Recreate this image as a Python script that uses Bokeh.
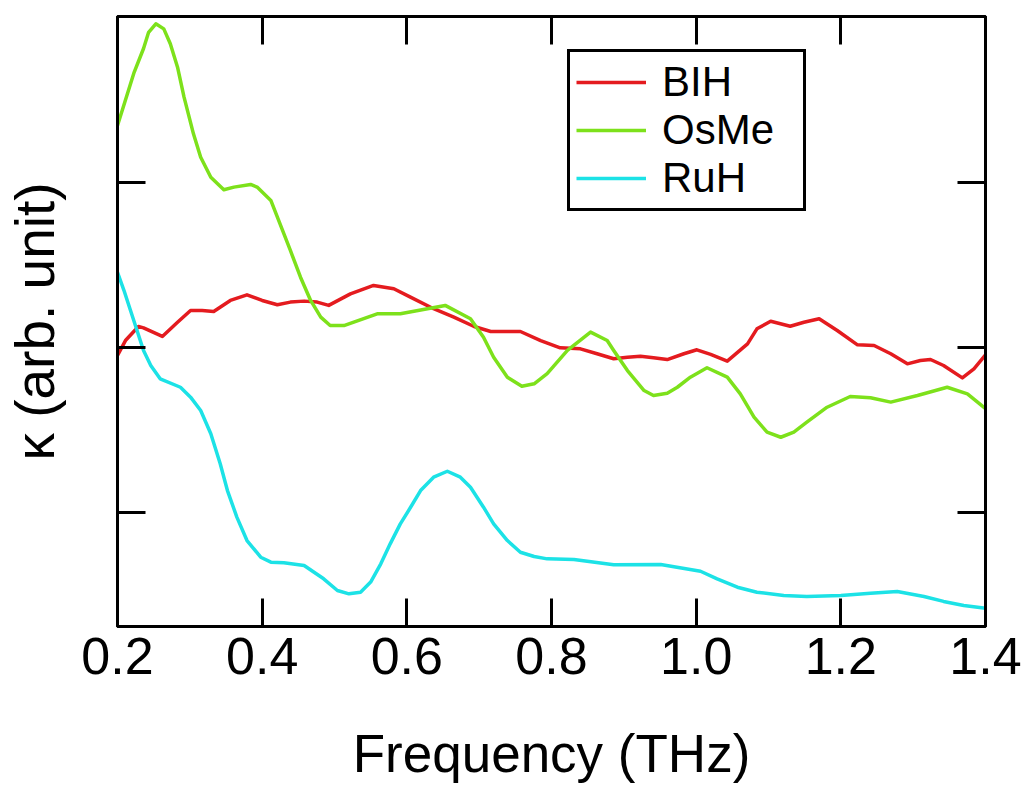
from bokeh.plotting import figure
from bokeh.models import Range1d, FixedTicker, LinearAxis, Legend, LegendItem
from bokeh.embed import file_html
from bokeh.resources import INLINE

# --- data (y in arbitrary units, ticks at 1, 2, 3) ---
bih_x = [0.200, 0.211, 0.229, 0.236, 0.262, 0.283, 0.301, 0.317, 0.333, 0.356,
         0.379, 0.400, 0.421, 0.439, 0.458, 0.476, 0.492, 0.522, 0.554, 0.582,
         0.605, 0.637, 0.665, 0.693, 0.716, 0.757, 0.785, 0.812, 0.840, 0.863,
         0.886, 0.905, 0.923, 0.941, 0.960, 0.983, 1.001, 1.020, 1.043, 1.071,
         1.084, 1.103, 1.130, 1.149, 1.170, 1.195, 1.223, 1.246, 1.269, 1.292,
         1.310, 1.324, 1.342, 1.368, 1.384, 1.400]
bih_y = [1.952, 2.042, 2.127, 2.119, 2.067, 2.153, 2.224, 2.224, 2.218, 2.285,
         2.319, 2.285, 2.259, 2.275, 2.281, 2.275, 2.255, 2.325, 2.376, 2.356,
         2.305, 2.235, 2.184, 2.127, 2.097, 2.097, 2.042, 1.998, 1.992, 1.962,
         1.932, 1.941, 1.947, 1.938, 1.927, 1.962, 1.986, 1.958, 1.917, 2.022,
         2.113, 2.159, 2.129, 2.153, 2.174, 2.103, 2.016, 2.012, 1.962, 1.901,
         1.921, 1.927, 1.891, 1.816, 1.871, 1.955]

osme_x = [0.200, 0.223, 0.236, 0.243, 0.253, 0.264, 0.273, 0.283, 0.292, 0.305,
          0.315, 0.329, 0.347, 0.361, 0.384, 0.393, 0.412, 0.439, 0.453, 0.467,
          0.481, 0.494, 0.513, 0.559, 0.591, 0.653, 0.688, 0.706, 0.720, 0.739,
          0.759, 0.776, 0.794, 0.822, 0.854, 0.877, 0.886, 0.905, 0.928, 0.941,
          0.960, 0.974, 0.992, 1.015, 1.043, 1.061, 1.080, 1.098, 1.117, 1.135,
          1.153, 1.181, 1.213, 1.241, 1.269, 1.306, 1.347, 1.375, 1.400]
osme_y = [3.345, 3.668, 3.812, 3.910, 3.962, 3.931, 3.841, 3.699, 3.517, 3.295,
          3.153, 3.032, 2.956, 2.972, 2.988, 2.972, 2.891, 2.588, 2.426, 2.285,
          2.184, 2.133, 2.133, 2.204, 2.204, 2.255, 2.174, 2.062, 1.941, 1.820,
          1.765, 1.780, 1.841, 1.982, 2.093, 2.042, 1.982, 1.860, 1.739, 1.709,
          1.723, 1.759, 1.820, 1.877, 1.820, 1.719, 1.578, 1.487, 1.456, 1.487,
          1.547, 1.638, 1.703, 1.695, 1.669, 1.709, 1.759, 1.719, 1.630]

ruh_x = [0.200, 0.209, 0.218, 0.227, 0.236, 0.246, 0.259, 0.287, 0.301, 0.315,
         0.329, 0.342, 0.352, 0.365, 0.379, 0.398, 0.412, 0.430, 0.458, 0.485,
         0.504, 0.520, 0.536, 0.550, 0.564, 0.577, 0.591, 0.605, 0.619, 0.637,
         0.656, 0.674, 0.688, 0.706, 0.720, 0.739, 0.757, 0.776, 0.794, 0.831,
         0.886, 0.951, 1.006, 1.029, 1.057, 1.084, 1.121, 1.153, 1.200, 1.241,
         1.278, 1.315, 1.342, 1.370, 1.400]
ruh_y = [2.456, 2.345, 2.224, 2.103, 1.982, 1.891, 1.810, 1.759, 1.699, 1.618,
         1.477, 1.295, 1.133, 0.972, 0.830, 0.729, 0.699, 0.695, 0.679, 0.598,
         0.527, 0.507, 0.517, 0.578, 0.689, 0.810, 0.931, 1.030, 1.133, 1.214,
         1.250, 1.214, 1.153, 1.032, 0.931, 0.830, 0.759, 0.733, 0.719, 0.715,
         0.683, 0.685, 0.644, 0.598, 0.547, 0.517, 0.497, 0.491, 0.497, 0.511,
         0.521, 0.491, 0.461, 0.436, 0.420]

x_ticks = [0.2, 0.4, 0.6, 0.8, 1.0, 1.2, 1.4]
x_tick_labels = ["0.2", "0.4", "0.6", "0.8", "1.0", "1.2", "1.4"]
y_ticks = [1, 2, 3]

series_names = ["BIH", "OsMe", "RuH"]
series_colors = ["#E41B1F", "#7DE11B", "#1CE2E6"]

FONT = "Liberation Sans"

p = figure(width=1022, height=787, output_backend="svg", toolbar_location=None,
           x_range=Range1d(0.2, 1.4), y_range=Range1d(0.309, 4.006),
           min_border_left=117, min_border_right=37, min_border_top=16,
           min_border_bottom=161, x_axis_location=None, y_axis_location=None)
p.grid.visible = False
p.outline_line_color = "black"
p.outline_line_width = 3
p.background_fill_color = "white"
p.border_fill_color = "white"


def style_axis(ax, ticks, labels=None, show_labels=True):
    ax.ticker = FixedTicker(ticks=ticks)
    ax.major_tick_in = 28
    ax.major_tick_out = 0
    ax.minor_tick_in = 0
    ax.minor_tick_out = 0
    ax.major_tick_line_width = 3
    ax.major_tick_line_color = "black"
    ax.axis_line_width = 3
    ax.axis_line_color = "black"
    if show_labels:
        ax.major_label_overrides = {t: l for t, l in zip(ticks, labels)}
        ax.major_label_text_font = FONT
        ax.major_label_text_font_size = "52px"
        ax.major_label_text_color = "black"
    else:
        ax.major_label_overrides = {t: "" for t in ticks}
        ax.major_label_text_font_size = "0px"
        ax.major_label_standoff = 0


xb = LinearAxis(axis_label="Frequency (THz)")
style_axis(xb, x_ticks, x_tick_labels, True)
xb.major_label_standoff = 11
xb.axis_label_text_font = FONT
xb.axis_label_text_font_size = "53px"
xb.axis_label_text_font_style = "normal"
xb.axis_label_text_color = "black"
xb.axis_label_standoff = 47
p.add_layout(xb, "below")

xt = LinearAxis()
style_axis(xt, x_ticks, show_labels=False)
p.add_layout(xt, "above")

yl = LinearAxis(axis_label="κ (arb. unit)")
style_axis(yl, y_ticks, show_labels=False)
yl.axis_label_text_font = FONT
yl.axis_label_text_font_size = "55px"
yl.axis_label_text_font_style = "normal"
yl.axis_label_text_color = "black"
yl.axis_label_standoff = 52
p.add_layout(yl, "left")

yr = LinearAxis()
style_axis(yr, y_ticks, show_labels=False)
p.add_layout(yr, "right")

renderers = []
for xs, ys, c in [(bih_x, bih_y, series_colors[0]),
                  (osme_x, osme_y, series_colors[1]),
                  (ruh_x, ruh_y, series_colors[2])]:
    r = p.line(xs, ys, line_color=c, line_width=3.5, line_join="round")
    renderers.append(r)

legend = Legend(items=[LegendItem(label=n, renderers=[r]) for n, r in zip(series_names, renderers)],
                location=(450, 415))
legend.label_text_font = FONT
legend.label_text_font_size = "42px"
legend.label_text_color = "black"
legend.glyph_width = 70
legend.glyph_height = 40
legend.label_standoff = 16
legend.label_width = 135
legend.padding = 6
legend.margin = 0
legend.spacing = 0
legend.border_line_color = "black"
legend.border_line_alpha = 1.0
legend.border_line_width = 3
legend.background_fill_alpha = 1.0
p.add_layout(legend, "center")

open("out.html", "w").write(file_html(p, INLINE))
